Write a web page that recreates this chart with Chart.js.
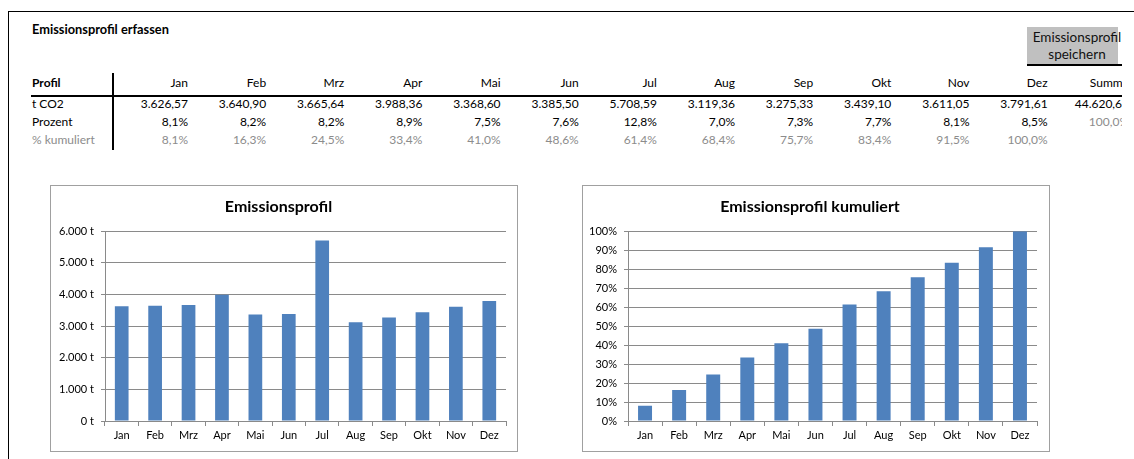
<!DOCTYPE html>
<html><head><meta charset="utf-8">
<script src="https://cdn.jsdelivr.net/npm/chart.js@4"></script>
<style>
html,body{margin:0;padding:0;background:#fff;width:1134px;height:459px;overflow:hidden;font-family:Lato,'Open Sans',sans-serif;}
.line{position:absolute;background:#000}
#tbl{position:absolute;left:0;top:0;width:1122px;height:170px;overflow:hidden}
.c{position:absolute;font-size:12px;line-height:16px;white-space:nowrap;color:#000;text-align:right;width:80px}
.l{position:absolute;font-size:12px;line-height:16px;white-space:nowrap;color:#000}
.gray{color:#8c8c8c}
.b{font-weight:bold}
#btn{position:absolute;left:1027px;top:27px;width:91px;height:37px;background:#c0c0c0}
#btnTxt{position:absolute;left:1022px;top:29px;width:110px;text-align:center;font-size:13.5px;line-height:17px;color:#111;white-space:nowrap}
.box{position:absolute;border:1px solid #a0a0a0;background:#fff}
canvas{display:block}
</style></head>
<body>
<div class="line" style="left:8px;top:11px;width:1126px;height:1px"></div>
<div class="line" style="left:8px;top:11px;width:1px;height:448px"></div>
<div class="l b" id="title" style="left:32px;top:21px;font-size:12.8px">Emissionsprofil erfassen</div>
<div id="tbl">
  <div id="btn"></div>
  <div class="line" style="left:1027px;top:64px;width:95px;height:1.5px"></div>
  <div id="btnTxt">Emissionsprofil<br>speichern</div>
</div>
<div class="box" style="left:50px;top:185px;width:466px;height:265px"><canvas id="c1" width="466" height="265"></canvas></div>
<div class="box" style="left:582px;top:185px;width:466px;height:265px"><canvas id="c2" width="466" height="265"></canvas></div>
<script>
const months = ['Jan','Feb','Mrz','Apr','Mai','Jun','Jul','Aug','Sep','Okt','Nov','Dez'];
const tco2 = [3626.57, 3640.90, 3665.64, 3988.36, 3368.60, 3385.50, 5708.59, 3119.36, 3275.33, 3439.10, 3611.05, 3791.61];
const prozent = [8.1, 8.2, 8.2, 8.9, 7.5, 7.6, 12.8, 7.0, 7.3, 7.7, 8.1, 8.5];
const kumuliert = [8.1, 16.3, 24.5, 33.4, 41.0, 48.6, 61.4, 68.4, 75.7, 83.4, 91.5, 100.0];
const summeLabel = 'Summe';
const summeT = 44620.61;
const summeP = 100.0;
const rowLabels = ['Profil', 't CO2', 'Prozent', '% kumuliert'];

function grp(intStr){ return intStr.replace(/\B(?=(\d{3})+(?!\d))/g, '.'); }
function fmtDe(v, dec){ const s = v.toFixed(dec).split('.'); return grp(s[0]) + (dec ? ',' + s[1] : ''); }

// table
const tbl = document.getElementById('tbl');
const rowTop = [75, 96, 114, 132];
function cell(cls, txt, left, top){ const d = document.createElement('div'); d.className = cls; d.textContent = txt; d.style.left = left + 'px'; d.style.top = top + 'px'; tbl.appendChild(d); }
cell('l b', rowLabels[0], 32, rowTop[0]);
cell('l', rowLabels[1], 32, rowTop[1]);
cell('l', rowLabels[2], 32, rowTop[2]);
cell('l gray', rowLabels[3], 32, rowTop[3]);
const colRight = i => 188 + i * 78.15;
months.forEach((m, i) => {
  const L = colRight(i) - 80;
  cell('c', m, L, rowTop[0]);
  cell('c', fmtDe(tco2[i], 2), L, rowTop[1]);
  cell('c', fmtDe(prozent[i], 1) + '%', L, rowTop[2]);
  cell('c gray', fmtDe(kumuliert[i], 1) + '%', L, rowTop[3]);
});
const Ls = 1129 - 80;
cell('c', summeLabel, Ls, rowTop[0]);
cell('c', fmtDe(summeT, 2), Ls, rowTop[1]);
cell('c gray', fmtDe(summeP, 1) + '%', Ls, rowTop[2]);
// table rules
const v = document.createElement('div'); v.className='line'; Object.assign(v.style,{left:'112px',top:'73px',width:'2px',height:'77px'}); tbl.appendChild(v);
const h = document.createElement('div'); h.className='line'; Object.assign(h.style,{left:'31px',top:'95px',width:'1100px',height:'2px'}); tbl.appendChild(h);

const FONT = 'Lato';
const GRID = '#8a8a8a';
function makeChart(id, title, data, yMax, step, fmt, leftW, rightPad){
  new Chart(document.getElementById(id), {
    type: 'bar',
    data: { labels: months, datasets: [{ data: data, backgroundColor: '#4F81BD', borderWidth: 0, barPercentage: 0.41, categoryPercentage: 1 }] },
    options: {
      responsive: false, animation: false, devicePixelRatio: 1,
      layout: { padding: { left: 0, right: rightPad, top: 0, bottom: 0 } },
      plugins: {
        legend: { display: false }, tooltip: { enabled: false },
        title: { display: true, text: title, color: '#000', font: { family: FONT, size: 16, weight: 'bold' }, padding: { top: 11, bottom: 15 } }
      },
      scales: {
        x: {
          grid: { display: true, drawOnChartArea: false, drawTicks: true, tickLength: 5, color: GRID, offset: true },
          border: { color: GRID },
          ticks: { color: '#000', font: { family: FONT, size: 11 }, padding: 3, maxRotation: 0, autoSkip: false },
          afterFit(s){ s.height = 30; }
        },
        y: {
          min: 0, max: yMax,
          grid: { color: GRID, tickLength: 4 },
          border: { color: GRID },
          ticks: { stepSize: step, callback: fmt, color: '#000', font: { family: FONT, size: 11 }, padding: 7 },
          afterFit(s){ s.width = leftW; }
        }
      }
    }
  });
}
makeChart('c1', 'Emissionsprofil', tco2, 6000, 1000, v => fmtDe(v, 0) + ' t', 54, 11);
makeChart('c2', 'Emissionsprofil kumuliert', kumuliert, 100, 10, v => v + '%', 45, 12);
</script>
</body></html>
